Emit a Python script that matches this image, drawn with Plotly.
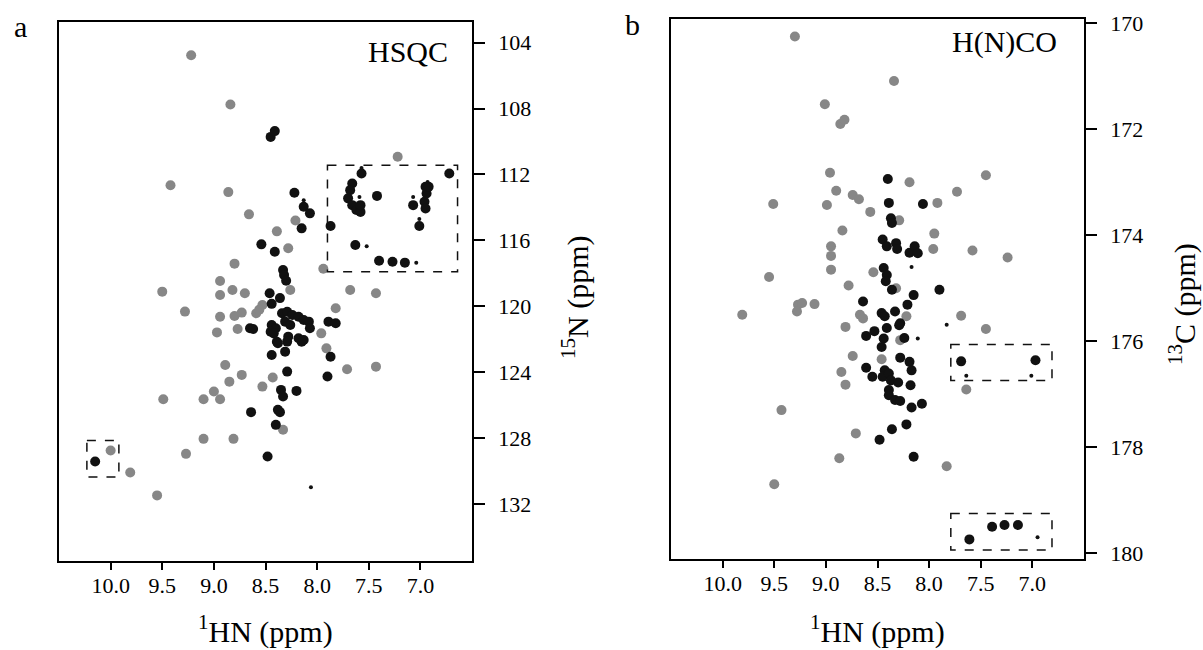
import plotly.graph_objects as go

# ---------------- data (ppm) ----------------
# Panel a: HSQC  (1H, 15N)
hsqc_gray_h = [9.22, 8.84, 7.22, 9.42, 8.86, 8.66, 8.21, 8.39, 8.28, 8.80, 7.94, 8.94, 9.50, 8.94,
               8.82, 8.70, 8.26, 7.68, 7.43, 9.28, 8.94, 8.80, 8.73, 8.59, 8.53, 8.56, 7.82, 8.97,
               8.77, 7.96, 7.91, 8.89, 8.73, 8.85, 8.43, 8.53, 7.71, 7.43, 9.00, 9.49, 9.10, 8.94,
               8.33, 9.10, 8.81, 9.27, 10.00, 9.81, 9.55]
hsqc_gray_n = [104.77, 107.76, 110.93, 112.65, 113.07, 114.42, 114.79, 115.45, 116.48, 117.41, 117.72,
               118.46, 119.11, 119.31, 119.01, 119.21, 119.01, 119.01, 119.21, 120.32, 120.63, 120.59,
               120.38, 120.42, 119.92, 120.20, 120.12, 121.58, 121.37, 121.64, 122.55, 123.56, 124.16,
               124.57, 124.32, 124.87, 123.82, 123.66, 125.17, 125.64, 125.64, 125.64, 127.49, 128.04,
               128.04, 128.95, 128.75, 130.08, 131.47]

hsqc_black_h = [8.45, 8.41, 8.22, 8.13, 8.07, 8.15, 8.54, 8.41, 8.33, 8.32, 8.30, 8.46, 8.36, 8.44,
                8.34, 8.29, 8.24, 8.18, 8.13, 8.08, 8.07, 8.31, 8.26, 8.44, 8.40, 8.45, 8.42, 8.65,
                8.62, 8.18, 8.15, 8.28, 8.39, 8.31, 8.44, 7.89, 7.82, 7.87, 8.38, 8.29, 8.13, 7.90,
                8.29, 8.35, 8.33, 8.20, 8.64, 8.38, 8.36, 8.40, 8.48, 10.15,
                7.57, 6.72, 7.66, 7.68, 7.70, 7.66, 7.62, 7.58, 7.58, 7.42, 7.07, 6.95, 6.94, 6.96,
                6.95, 6.92, 7.01, 7.87, 7.63, 7.40, 7.27, 7.15]
hsqc_black_n = [109.72, 109.37, 113.11, 113.96, 114.36, 115.27, 116.24, 116.69, 117.80, 118.10, 118.45,
                119.21, 119.50, 119.85, 120.42, 120.33, 120.53, 120.63, 120.83, 120.93, 121.33, 120.93,
                121.13, 121.13, 121.33, 121.54, 121.64, 121.33, 121.37, 121.94, 122.15, 121.84, 122.15,
                122.75, 122.95, 120.93, 121.03, 123.06, 122.24, 122.14, 122.04, 124.26, 123.96, 125.07,
                125.47, 125.13, 126.42, 126.28, 126.42, 127.19, 129.11, 129.41,
                111.94, 111.94, 112.55, 112.95, 113.45, 113.86, 114.16, 114.27, 113.86, 113.30, 113.86,
                112.75, 113.15, 113.66, 114.06, 112.75, 115.13, 115.13, 116.28, 117.23, 117.29, 117.35]

hsqc_small_h = [8.13, 7.59, 7.07, 7.01, 7.52, 7.04, 8.06, 7.57, 6.93]
hsqc_small_n = [113.56, 113.36, 113.36, 114.70, 116.35, 117.35, 130.97, 111.60, 112.45]

# dashed boxes (x0, x1, y0, y1) in ppm
hsqc_boxes = [(7.90, 6.64, 111.44, 117.90), (10.23, 9.92, 128.14, 130.36)]

# Panel b: H(N)CO  (1H, 13C)
hnco_gray_h = [9.30, 8.34, 9.01, 8.86, 8.82, 8.96, 8.19, 7.45, 8.90, 8.74, 8.68, 7.73, 9.51, 8.99,
               7.92, 8.57, 8.29, 8.84, 7.95, 8.95, 8.95, 7.96, 7.58, 7.24, 8.95, 8.54, 9.55, 8.78,
               8.32, 9.27, 9.23, 9.11, 9.28, 9.81, 8.67, 8.64, 8.22, 7.69, 8.81, 7.45, 8.28, 8.74,
               8.46, 8.85, 8.81, 7.64, 9.43, 8.71, 8.87, 7.83, 9.50]
hnco_gray_c = [170.25, 171.09, 171.53, 171.90, 171.82, 172.82, 173.00, 172.87, 173.16, 173.24, 173.32,
               173.18, 173.41, 173.43, 173.39, 173.56, 173.72, 173.91, 173.97, 174.21, 174.39, 174.26,
               174.29, 174.42, 174.65, 174.70, 174.79, 174.95, 175.00, 175.31, 175.28, 175.30, 175.44,
               175.50, 175.50, 175.57, 175.53, 175.52, 175.73, 175.77, 175.98, 176.28, 176.34, 176.58,
               176.82, 176.91, 177.30, 177.74, 178.21, 178.36, 178.70]

hnco_black_h = [8.40, 8.39, 8.06, 8.37, 8.36, 8.45, 8.41, 8.32, 8.31, 8.19, 8.14, 8.11, 8.44, 8.41,
                8.42, 7.90, 8.36, 8.15, 8.64, 8.21, 8.46, 8.43, 8.33, 8.28, 8.61, 8.53, 8.44, 8.46,
                8.41, 8.29, 8.24, 8.28, 8.19, 8.17, 8.61, 8.55, 8.43, 8.45, 8.39, 8.37, 8.30, 8.18,
                8.39, 8.39, 8.33, 8.28, 8.07, 8.17, 8.22, 8.36, 8.48, 8.15,
                7.69, 6.97, 7.61, 7.39, 7.27, 7.14]
hnco_black_c = [172.94, 173.39, 173.41, 173.68, 173.77, 174.08, 174.21, 174.15, 174.26, 174.33, 174.21,
                174.34, 174.62, 174.75, 174.87, 175.03, 175.03, 175.13, 175.25, 175.31, 175.47, 175.53,
                175.44, 175.66, 175.90, 175.81, 175.95, 176.11, 175.75, 175.70, 175.94, 176.31, 176.39,
                176.55, 176.50, 176.67, 176.55, 176.67, 176.61, 176.74, 176.78, 176.83, 176.92, 177.02,
                177.11, 177.13, 177.18, 177.25, 177.57, 177.66, 177.86, 178.18,
                176.38, 176.36, 179.74, 179.50, 179.47, 179.47]

hnco_small_h = [7.64, 7.01, 6.95, 8.11, 7.83, 8.17]
hnco_small_c = [176.65, 176.65, 179.70, 175.95, 175.69, 174.60]

hnco_boxes = [(7.79, 6.81, 176.06, 176.74), (7.79, 6.81, 179.25, 179.94)]

x_ticks = [10.0, 9.5, 9.0, 8.5, 8.0, 7.5, 7.0]
hsqc_y_ticks = [104, 108, 112, 116, 120, 124, 128, 132]
hnco_y_ticks = [170, 172, 174, 176, 178, 180]

# ---------------- styling ----------------
FONT = "Liberation Serif, Times New Roman, Times, serif"
GRAY = "#878787"
BLACK = "#111111"
W, H = 1203, 650

fig = go.Figure()


def add_panel(gx, gy, bx, by, sx, sy, xa, ya):
    fig.add_trace(go.Scatter(x=gx, y=gy, mode="markers", xaxis=xa, yaxis=ya,
                             marker=dict(color=GRAY, size=10, line=dict(width=0)),
                             showlegend=False, hoverinfo="x+y"))
    fig.add_trace(go.Scatter(x=bx, y=by, mode="markers", xaxis=xa, yaxis=ya,
                             marker=dict(color=BLACK, size=10, line=dict(width=0)),
                             showlegend=False, hoverinfo="x+y"))
    fig.add_trace(go.Scatter(x=sx, y=sy, mode="markers", xaxis=xa, yaxis=ya,
                             marker=dict(color=BLACK, size=4, line=dict(width=0)),
                             showlegend=False, hoverinfo="x+y"))


add_panel(hsqc_gray_h, hsqc_gray_n, hsqc_black_h, hsqc_black_n, hsqc_small_h, hsqc_small_n, "x", "y")
add_panel(hnco_gray_h, hnco_gray_c, hnco_black_h, hnco_black_c, hnco_small_h, hnco_small_c, "x2", "y2")

for (x0, x1, y0, y1) in hsqc_boxes:
    fig.add_shape(type="rect", xref="x", yref="y", x0=x0, x1=x1, y0=y0, y1=y1,
                  line=dict(color=BLACK, width=1.5, dash="dash"))
for (x0, x1, y0, y1) in hnco_boxes:
    fig.add_shape(type="rect", xref="x2", yref="y2", x0=x0, x1=x1, y0=y0, y1=y1,
                  line=dict(color=BLACK, width=1.5, dash="dash"))

# plot-area pixel geometry
a_l, a_r, a_t, a_b = 59, 472, 22, 561
b_l, b_r, b_t, b_b = 671, 1084, 19, 559

common_x = dict(showline=True, linecolor="black", linewidth=1.6, mirror=True,
                ticks="outside", ticklen=7, tickwidth=1.6, tickcolor="black",
                tickvals=x_ticks, ticktext=[f"{v:.1f}" for v in x_ticks],
                tickfont=dict(family=FONT, size=22, color="black"),
                showgrid=False, zeroline=False, range=[10.5, 6.5],
                ticklabelstandoff=-3, automargin=False)
common_y = dict(showline=True, linecolor="black", linewidth=1.6, mirror=True,
                ticks="outside", ticklen=11, tickwidth=1.6, tickcolor="black",
                side="right", tickfont=dict(family=FONT, size=22, color="black"),
                showgrid=False, zeroline=False, ticklabelstandoff=9, automargin=False)

fig.update_layout(
    template="none",
    width=W, height=H, margin=dict(l=0, r=0, t=0, b=0, autoexpand=False),
    paper_bgcolor="white", plot_bgcolor="white",
    font=dict(family=FONT, color="black"),
    xaxis=dict(domain=[a_l / W, a_r / W], anchor="y", **common_x),
    yaxis=dict(domain=[1 - a_b / H, 1 - a_t / H], anchor="x", range=[135.45, 102.75],
               tickvals=hsqc_y_ticks, **common_y),
    xaxis2=dict(domain=[b_l / W, b_r / W], anchor="y2", **common_x),
    yaxis2=dict(domain=[1 - b_b / H, 1 - b_t / H], anchor="x2", range=[180.11, 169.92],
                tickvals=hnco_y_ticks, **common_y),
)

ann = [
    dict(text="a", x=20 / W, y=1 - 26 / H, font=dict(size=30)),
    dict(text="b", x=632 / W, y=1 - 24 / H, font=dict(size=30)),
    dict(text="HSQC", x=450 / W, y=1 - 52 / H, xanchor="right", font=dict(size=30)),
    dict(text="H(N)CO", x=1059 / W, y=1 - 42 / H, xanchor="right", font=dict(size=30)),
    dict(text="<sup>1</sup>HN (ppm)", x=(a_l + a_r) / 2 / W, y=1 - 629 / H, font=dict(size=30)),
    dict(text="<sup>1</sup>HN (ppm)", x=(b_l + b_r) / 2 / W, y=1 - 629 / H, font=dict(size=30)),
    dict(text="<sup>15</sup>N (ppm)", x=575 / W, y=1 - 298 / H, textangle=-90, font=dict(size=30)),
    dict(text="<sup>13</sup>C (ppm)", x=1183 / W, y=1 - 304 / H, textangle=-90, font=dict(size=30)),
]
for a in ann:
    a.setdefault("xanchor", "center")
    a.update(xref="paper", yref="paper", yanchor="middle", showarrow=False)
    a["font"].update(family=FONT, color="black")
fig.update_layout(annotations=ann)

fig.write_html("out.html")
